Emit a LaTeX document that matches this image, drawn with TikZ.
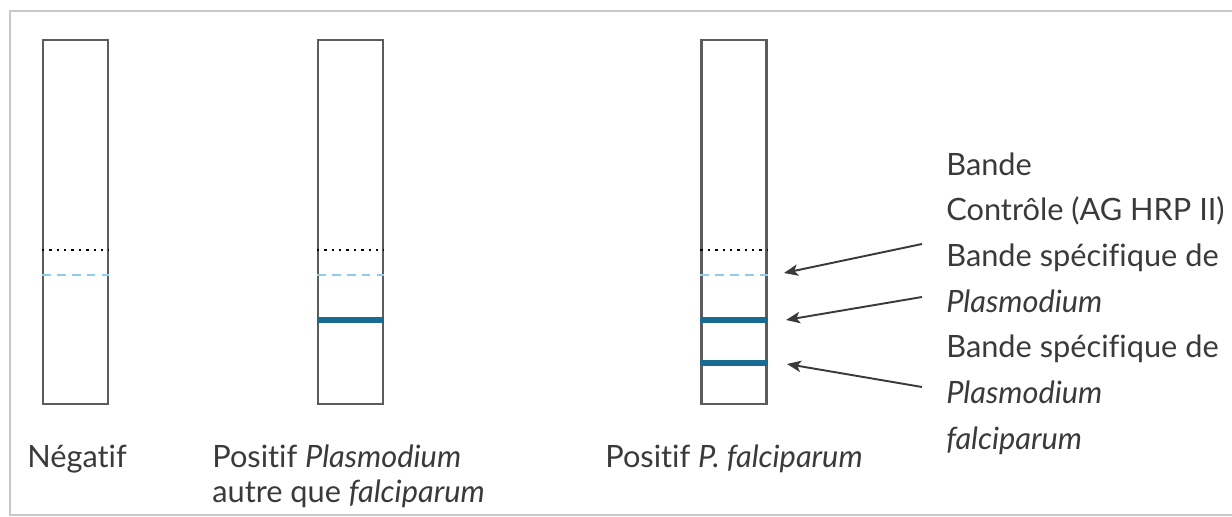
\documentclass[tikz,border=0pt]{standalone}
\usepackage{fontspec}
\setmainfont{Lato}[Ligatures={NoCommon, NoRare}]
\usepackage{tikz}
\usetikzlibrary{calc, positioning, arrows.meta}

\definecolor{txtgray}{HTML}{3A3A3A}
\definecolor{stripgray}{HTML}{5C5C5C}
\definecolor{framegray}{HTML}{C8C8C8}
\definecolor{bandblue}{HTML}{1B6A92}
\definecolor{paleblue}{HTML}{8ECDE8}

\begin{document}
\begin{tikzpicture}[x=0.02cm, y=-0.02cm,
        strip/.style={draw=stripgray, line width=1.3pt, minimum width=1.3cm, minimum height=7.28cm, inner sep=0pt},
        ctrlline/.style={line width=1.1pt, dash pattern=on 1.4pt off 2.8pt},
        faintline/.style={paleblue, line width=0.9pt, dash pattern=on 5pt off 3.5pt},
        bandline/.style={bandblue, line width=3.2pt},
        pointer/.style={txtgray, line width=1.1pt, -{Stealth[length=8pt, width=6.5pt, inset=2pt]}},
        lbl/.style={txtgray, anchor=base west, inner sep=0pt, font=\fontsize{17.5}{21}\selectfont}]
    \useasboundingbox (0,0) rectangle (1232,517);
    \draw[framegray, line width=1.2pt] (1232,11) -- (10,11) -- (10,515) -- (1232,515);

    % the three strips
    \node[strip] (neg) at (75.5,222) {};
    \node[strip] (autre) at (350.5,222) {};
    \node[strip] (falci) at (734,222) {};

    \foreach \s in {neg, autre, falci} {
            \draw[ctrlline] (\s.west |- 0,250) -- (\s.east |- 0,250);
            \draw[faintline] (\s.west |- 0,275) -- (\s.east |- 0,275);
        };
    \draw[bandline] (autre.west |- 0,320) -- (autre.east |- 0,320);
    \draw[bandline] (falci.west |- 0,320) -- (falci.east |- 0,320);
    \draw[bandline] (falci.west |- 0,363) -- (falci.east |- 0,363);

    % labels under the strips
    \node[lbl] (lneg) at (27,467) {Négatif};
    \node[lbl] (lautre) at (212,467) {Positif \textit{Plasmodium}};
    \node[lbl] (lautreb) at (212,502) {autre que \textit{falciparum}};
    \node[lbl] (lfalci) at (605,467) {Positif \textit{P. falciparum}};

    % legend on the right
    \foreach \txt [count=\i] in {Bande, Contrôle (AG HRP II), Bande spécifique de, \textit{Plasmodium},
            Bande spécifique de, \textit{Plasmodium}, \textit{falciparum}} {
            \node[lbl] (leg\i) at (946,{175+45.7*(\i-1)}) {\txt};
        };

    \coordinate (t1) at (922,244);
    \coordinate (t2) at (922,297);
    \coordinate (t3) at (922,387);
    \coordinate (h1) at (784,273);
    \coordinate (h2) at (786,320);
    \coordinate (h3) at (787,364);
    \draw[pointer] (t1) -- (h1);
    \draw[pointer] (t2) -- (h2);
    \draw[pointer] (t3) -- (h3);
\end{tikzpicture}
\end{document}
